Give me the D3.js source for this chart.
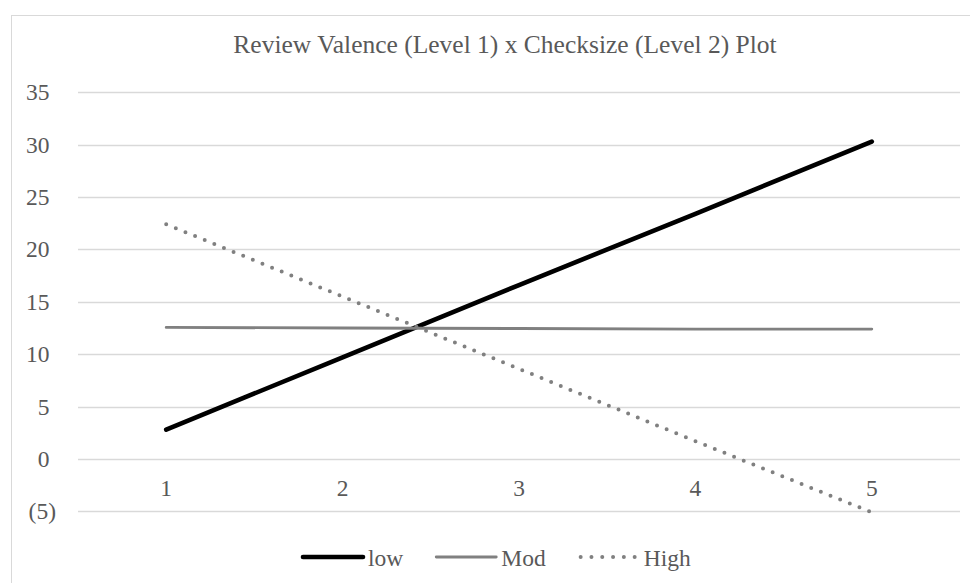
<!DOCTYPE html>
<html>
<head>
<meta charset="utf-8">
<script src="https://cdn.jsdelivr.net/npm/d3@7/dist/d3.min.js"></script>
<style>
  html, body { margin: 0; padding: 0; background: #fff; }
  svg { display: block; }
  text { font-family: "Liberation Serif", "Times New Roman", serif; fill: #595959; }
</style>
</head>
<body>
<svg id="chart" width="970" height="583"></svg>
<script>
// ---- data ----
const categories = ["1", "2", "3", "4", "5"];
const lowValues  = [2.8, 9.7, 16.6, 23.4, 30.3];
const modValues  = [12.55, 12.5, 12.45, 12.4, 12.4];
const highValues = [22.4, 15.5, 8.6, 1.7, -5.1];
const yTicks = [-5, 0, 5, 10, 15, 20, 25, 30, 35];
const seriesNames = ["low", "Mod", "High"];
const titleText = "Review Valence (Level 1) x Checksize (Level 2) Plot";

// ---- layout ----
const W = 970, H = 583;
const plot = { left: 78, right: 960, top: 92.3, bottom: 511.3 };
const svg = d3.select("#chart");

// chart border (left & top visible, rest cropped)
svg.append("rect")
  .attr("x", 11.5).attr("y", 15.5)
  .attr("width", 1000).attr("height", 1000)
  .attr("fill", "none").attr("stroke", "#d9d9d9").attr("stroke-width", 1);

const x = d3.scaleBand().domain(categories).range([plot.left, plot.right]);
const cx = d => x(d) + x.bandwidth() / 2;
const y = d3.scaleLinear().domain([-5, 35]).range([plot.bottom, plot.top]);

// gridlines
svg.append("g").selectAll("line").data(yTicks).join("line")
  .attr("x1", plot.left).attr("x2", plot.right)
  .attr("y1", d => Math.round(y(d)) + 0.5).attr("y2", d => Math.round(y(d)) + 0.5)
  .attr("stroke", "#d9d9d9").attr("stroke-width", 1.3);

// y axis labels (accounting style)
const fmt = d => d < 0 ? "(" + Math.abs(d) + ")" : String(d);
svg.append("g").selectAll("text").data(yTicks).join("text")
  .attr("x", d => d < 0 ? 56 : 49.5)
  .attr("y", d => y(d))
  .attr("dy", "0.34em")
  .attr("text-anchor", "end")
  .attr("font-size", 23.5)
  .text(fmt);

// x axis labels below zero line
svg.append("g").selectAll("text").data(categories).join("text")
  .attr("x", d => cx(d))
  .attr("y", y(0) + 37)
  .attr("text-anchor", "middle")
  .attr("font-size", 23.5)
  .text(d => d);

// title
svg.append("text")
  .attr("x", 505).attr("y", 52.7)
  .attr("text-anchor", "middle")
  .attr("font-size", 25.5)
  .text(titleText);

// series
const styles = [
  { stroke: "#000000", width: 4.6, dash: null, cap: "round" },
  { stroke: "#808080", width: 2.8, dash: null, cap: "round" },
  { stroke: "#808080", width: 4, dash: "0,10.4", cap: "round" }
];
const seriesData = [lowValues, modValues, highValues];
const line = d3.line().x((d, i) => cx(categories[i])).y(d => y(d));

svg.append("g").selectAll("path").data(seriesData).join("path")
  .attr("d", d => line(d))
  .attr("fill", "none")
  .attr("stroke", (d, i) => styles[i].stroke)
  .attr("stroke-width", (d, i) => styles[i].width)
  .attr("stroke-linecap", (d, i) => styles[i].cap)
  .attr("stroke-linejoin", "round")
  .attr("stroke-dasharray", (d, i) => styles[i].dash);

// legend
const legend = svg.append("g");
let lx = 303;
const ly = 557;
seriesNames.forEach((name, i) => {
  const s = styles[i];
  legend.append("line")
    .attr("x1", i === 2 ? lx + 2 : lx).attr("x2", lx + 60)
    .attr("y1", ly).attr("y2", ly)
    .attr("stroke", s.stroke).attr("stroke-width", s.width)
    .attr("stroke-linecap", s.cap)
    .attr("stroke-dasharray", i === 2 ? "0,10.8" : null);
  const t = legend.append("text")
    .attr("x", lx + 65).attr("y", ly + 8.5)
    .attr("font-size", 23.5)
    .text(name);
  const w = t.node().getComputedTextLength();
  lx = lx + 65 + w + 33;
});
</script>
</body>
</html>
